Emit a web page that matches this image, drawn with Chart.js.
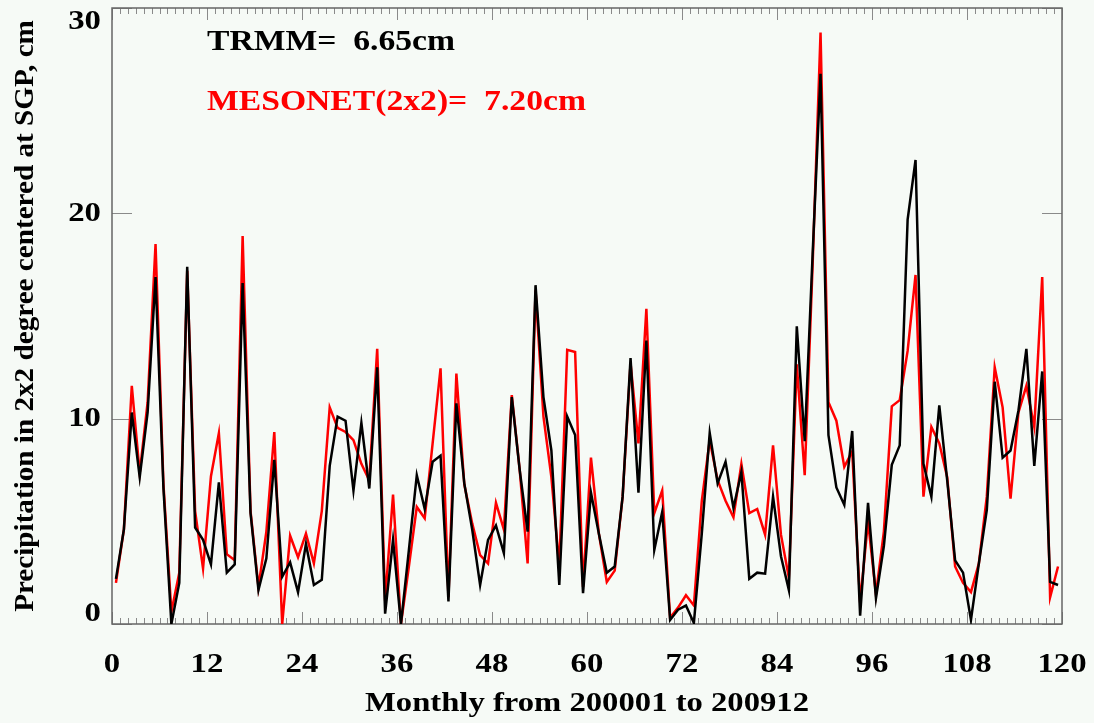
<!DOCTYPE html>
<html>
<head>
<meta charset="utf-8">
<script src="https://cdn.jsdelivr.net/npm/chart.js@4.4.1/dist/chart.umd.min.js"></script>
<style>
  html, body { margin: 0; padding: 0; background: #f6faf6; }
  #wrap { width: 1094px; height: 723px; }
</style>
</head>
<body>
<div id="wrap"><canvas id="precipChart"></canvas></div>
<script>
// monthly precipitation, Jan 2000 .. Dec 2009 (cm)
var trmm = [
  2.2, 4.6, 10.3, 7.15, 10.3, 16.9, 6.6, 0.0, 2.0, 17.4, 4.7, 4.1,
  2.9, 6.9, 2.5, 2.9, 16.6, 5.4, 1.65, 3.2, 8.0, 2.3, 3.0, 1.55,
  3.9, 1.9, 2.15, 7.7, 10.1, 9.9, 6.5, 9.8, 6.6, 12.5, 0.5, 4.1,
  0.0, 3.6, 7.25, 5.6, 7.9, 8.2, 1.1, 10.75, 6.85, 4.6, 1.9, 4.1,
  4.8, 3.45, 11.05, 7.5, 4.5, 16.5, 11.05, 8.45, 1.9, 10.1, 9.2, 1.5,
  6.4, 4.4, 2.5, 2.8, 6.2, 12.95, 6.4, 13.8, 3.6, 5.45, 0.2, 0.7,
  0.9, 0.05, 4.4, 9.3, 6.85, 7.9, 5.65, 7.4, 2.2, 2.5, 2.45, 6.2,
  3.3, 1.65, 14.5, 8.9, 18.0, 26.8, 9.2, 6.65, 5.8, 9.4, 0.4, 5.9,
  1.25, 3.8, 7.75, 8.7, 19.7, 22.6, 7.8, 6.2, 10.65, 7.0, 3.1, 2.5,
  0.2, 2.95, 5.55, 11.8, 8.1, 8.45, 10.4, 13.4, 7.7, 12.3, 2.05, 1.9
];
var mesonet = [
  2.0, 4.6, 11.6, 7.35, 10.8, 18.5, 6.8, 0.6, 2.5, 17.2, 5.5, 2.7,
  7.2, 9.3, 3.4, 3.1, 18.9, 5.5, 1.8, 4.5, 9.35, 0.0, 4.3, 3.25,
  4.4, 2.95, 5.5, 10.55, 9.55, 9.35, 8.95, 7.8, 7.0, 13.4, 1.15, 6.3,
  0.0, 2.8, 5.7, 5.15, 8.8, 12.45, 1.3, 12.2, 6.8, 4.9, 3.35, 2.95,
  5.9, 4.6, 11.15, 7.5, 2.95, 16.25, 10.1, 7.15, 2.8, 13.35, 13.25, 1.8,
  8.1, 4.4, 2.05, 2.6, 6.2, 12.7, 8.8, 15.35, 5.4, 6.5, 0.3, 0.8,
  1.4, 0.9, 6.0, 8.95, 7.0, 6.0, 5.2, 7.8, 5.4, 5.6, 4.35, 8.7,
  4.35, 2.25, 12.65, 7.25, 17.5, 28.8, 10.8, 9.9, 7.65, 8.4, 1.05, 5.0,
  1.45, 4.5, 10.6, 10.9, 13.3, 17.0, 6.2, 9.6, 8.8, 7.15, 2.8, 2.0,
  1.55, 2.95, 6.2, 12.5, 10.55, 6.1, 10.3, 11.6, 9.6, 16.9, 1.3, 2.8
];
var xTicks = [0, 12, 24, 36, 48, 60, 72, 84, 96, 108, 120];
var yTicks = [0, 10, 20, 30];
var legendLines = [
  { text: 'TRMM=  6.65cm', color: '#000000' },
  { text: 'MESONET(2x2)=  7.20cm', color: '#ff0000' }
];

var FONT = '"Liberation Serif", "Times New Roman", serif';

// month index -> mid-month position on the 0..120 axis
function toPoints(arr) {
  return arr.map(function (v, i) { return { x: i + 0.5, y: v }; });
}

// text with a bit of horizontal stretch, the old IDL fonts run wide
function wideText(c, txt, x, y, align, sx, angle) {
  c.save();
  c.translate(x, y);
  if (angle) c.rotate(angle);
  c.scale(sx, 1);
  c.textAlign = align;
  c.fillText(txt, 0, 0);
  c.restore();
}

// IDL-like frame: inward ticks on all four sides, clamped y labels, titles, legend text
var idlFrame = {
  id: 'idlFrame',
  beforeDraw: function (chart) {
    var c = chart.ctx;
    c.save();
    c.fillStyle = '#f6faf6';
    c.fillRect(0, 0, chart.width, chart.height);
    c.restore();
  },
  beforeDatasetsDraw: function (chart) {
    var c = chart.ctx, a = chart.chartArea;
    var xs = chart.scales.x, ys = chart.scales.y;
    c.save();
    c.strokeStyle = '#8a8a8a';
    c.lineWidth = 1;
    c.beginPath();
    for (var m = 0; m <= 120; m++) {
      var px = Math.round(xs.getPixelForValue(m)) + 0.5;
      var len = (m % 12 === 0) ? 12 : 6;
      c.moveTo(px, a.bottom); c.lineTo(px, a.bottom - len);
      c.moveTo(px, a.top); c.lineTo(px, a.top + len);
    }
    yTicks.forEach(function (v) {
      var py = Math.round(ys.getPixelForValue(v)) + 0.5;
      c.moveTo(a.left, py); c.lineTo(a.left + 20, py);
      c.moveTo(a.right, py); c.lineTo(a.right - 20, py);
    });
    c.stroke();
    c.strokeStyle = '#666666';
    c.lineWidth = 1.5;
    c.strokeRect(a.left, a.top, a.right - a.left, a.bottom - a.top);
    c.restore();
  },
  afterDraw: function (chart) {
    var c = chart.ctx, a = chart.chartArea;
    var xs = chart.scales.x, ys = chart.scales.y;
    c.save();
    c.fillStyle = '#000';
    c.font = 'bold 28px ' + FONT;
    c.textBaseline = 'middle';
    xTicks.forEach(function (v) {
      wideText(c, String(v), xs.getPixelForValue(v), a.bottom + 41, 'center', 1.17);
    });
    yTicks.forEach(function (v) {
      var py = Math.min(Math.max(ys.getPixelForValue(v), a.top + 14), a.bottom - 10);
      wideText(c, String(v), a.left - 11, py, 'right', 1.17);
    });
    c.font = 'bold 27px ' + FONT;
    wideText(c, 'Monthly from 200001 to 200912', (a.left + a.right) / 2, a.bottom + 80, 'center', 1.21);
    wideText(c, 'Precipitation in 2x2 degree centered at SGP, cm', 26, (a.top + a.bottom) / 2,
      'center', 1.08, -Math.PI / 2);
    c.font = 'bold 29px ' + FONT;
    c.textBaseline = 'alphabetic';
    legendLines.forEach(function (l, k) {
      c.fillStyle = l.color;
      wideText(c, l.text, a.left + 95, a.top + 42 + k * 60, 'left', 1.16);
    });
    c.restore();
  }
};

new Chart(document.getElementById('precipChart'), {
  type: 'line',
  data: {
    datasets: [{
      label: 'TRMM',
      data: toPoints(trmm),
      borderColor: '#000000',
      borderWidth: 2.5,
      pointRadius: 0,
      tension: 0,
      fill: false
    }, {
      label: 'MESONET(2x2)',
      data: toPoints(mesonet),
      borderColor: '#ff0000',
      borderWidth: 2.5,
      pointRadius: 0,
      tension: 0,
      fill: false
    }]
  },
  options: {
    responsive: true,
    maintainAspectRatio: false,
    animation: false,
    layout: { padding: { left: 112, top: 8, right: 32, bottom: 99 } },
    plugins: {
      legend: { display: false },
      tooltip: { enabled: false }
    },
    scales: {
      x: { type: 'linear', min: 0, max: 120, display: false },
      y: { type: 'linear', min: 0, max: 30, display: false }
    }
  },
  plugins: [idlFrame]
});
</script>
</body>
</html>
